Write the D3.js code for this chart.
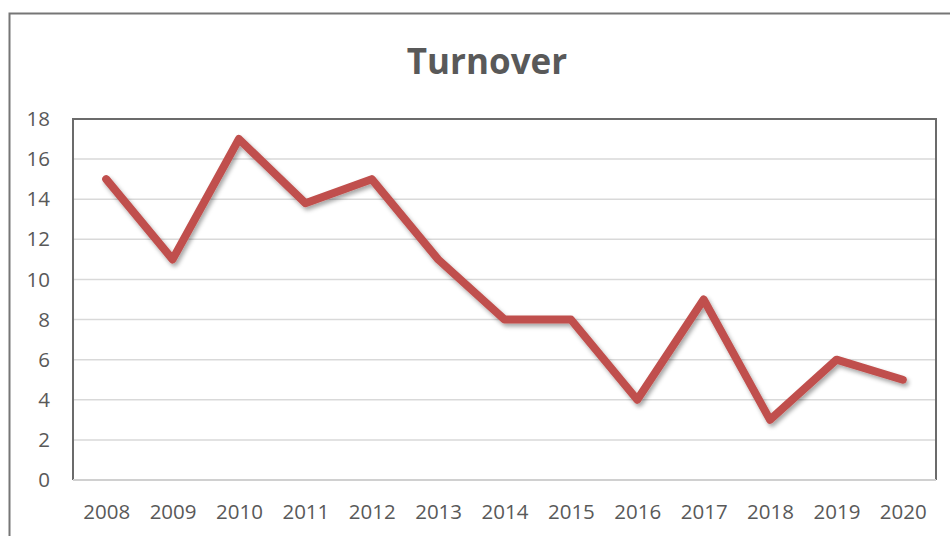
<!DOCTYPE html>
<html><head><meta charset="utf-8">
<script src="https://cdn.jsdelivr.net/npm/d3@7"></script>
<style>body{margin:0;background:#fff}svg{display:block}</style>
</head><body>
<svg id="c" width="950" height="536"></svg>
<script>
const years = ["2008","2009","2010","2011","2012","2013","2014","2015","2016","2017","2018","2019","2020"];
const turnover = [15, 11, 17, 13.8, 15, 11, 8, 8, 4, 9, 3, 6, 5];
const yTicks = [0, 2, 4, 6, 8, 10, 12, 14, 16, 18];
const title = "Turnover";

const svg = d3.select("#c");
const m = {l: 73, t: 119, r: 936, b: 480};
const x = d3.scalePoint().domain(years).range([m.l, m.r]).padding(0.5);
const y = d3.scaleLinear().domain([0, 18]).range([m.b, m.t]);

// outer chart border
svg.append("rect").attr("x", 9.5).attr("y", 13.5).attr("width", 960).attr("height", 560)
  .attr("fill", "none").attr("stroke", "#767676").attr("stroke-width", 2);

// title
svg.append("text").attr("x", 487).attr("y", 74).attr("text-anchor", "middle")
  .attr("font-family", "Open Sans, sans-serif").attr("font-weight", "bold")
  .attr("font-size", 35).attr("fill", "#595959").text(title);

// gridlines
svg.append("g").selectAll("line").data(yTicks.filter(d => d > 0)).join("line")
  .attr("x1", m.l).attr("x2", m.r).attr("y1", d => y(d)).attr("y2", d => y(d))
  .attr("stroke", "#d9d9d9").attr("stroke-width", 1.5);

// plot frame
svg.append("path")
  .attr("d", `M${m.l},${m.b} V${m.t} H${m.r} V${m.b}`)
  .attr("fill", "none").attr("stroke", "#6b6b6b").attr("stroke-width", 2);
svg.append("line").attr("x1", m.l).attr("x2", m.r).attr("y1", y(0)).attr("y2", y(0))
  .attr("stroke", "#d0d0d0").attr("stroke-width", 2);

// y axis labels
const ya = svg.append("g").attr("transform", `translate(${m.l},0)`)
  .call(d3.axisLeft(y).tickValues(yTicks).tickSize(0).tickPadding(23));
ya.select(".domain").remove();
ya.selectAll("text").attr("font-family", "Open Sans, sans-serif").attr("font-size", 20.5).attr("fill", "#595959");

// x axis labels
const xa = svg.append("g").attr("transform", `translate(0,${m.b})`)
  .call(d3.axisBottom(x).tickSize(0).tickPadding(24));
xa.select(".domain").remove();
xa.selectAll("text").attr("font-family", "Open Sans, sans-serif").attr("font-size", 20.5).attr("fill", "#595959");

// shadow
const defs = svg.append("defs");
const f = defs.append("filter").attr("id", "sh").attr("x", "-10%").attr("y", "-10%").attr("width", "120%").attr("height", "130%");
f.append("feDropShadow").attr("dx", 2).attr("dy", 3).attr("stdDeviation", 2).attr("flood-color", "#000").attr("flood-opacity", 0.35);

const line = d3.line().x((d, i) => x(years[i])).y(d => y(d));
svg.append("path").datum(turnover).attr("d", line)
  .attr("fill", "none").attr("stroke", "#C0504D").attr("stroke-width", 8)
  .attr("stroke-linejoin", "round").attr("stroke-linecap", "round")
  .attr("filter", "url(#sh)");
</script>
</body></html>
